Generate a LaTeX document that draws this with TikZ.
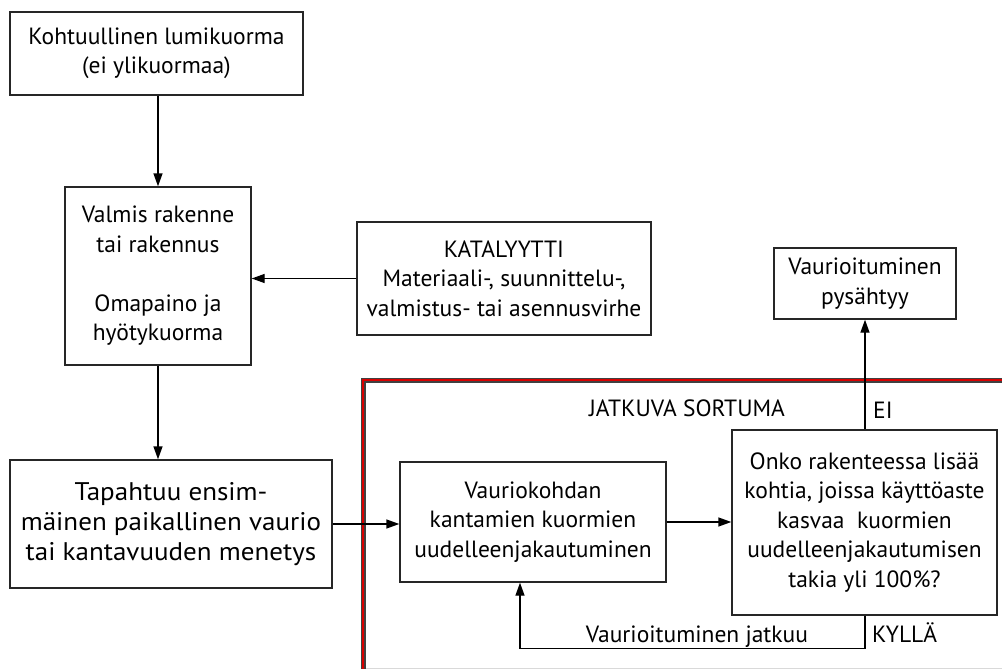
\documentclass[tikz,border=0pt]{standalone}
\usepackage{fontspec}
\setmainfont{PT Sans}
\newfontfamily\widesans[FakeStretch=1.06]{PT Sans}
\usetikzlibrary{arrows.meta,calc}
\begin{document}
\begin{tikzpicture}[x=1pt,y=-1pt,
  box/.style={draw=black!85,line width=1.4pt,align=center,inner sep=0pt,
    font=\fontsize{23.5}{29.5}\selectfont},
  lbl/.style={font=\fontsize{23.5}{29.5}\selectfont,inner sep=0pt},
  arr/.style={line width=1.4pt,-{Triangle[length=13pt,width=9pt]}}]
\useasboundingbox (0,0) rectangle (1002,669);
\begin{scope}
\clip (0,0) rectangle (1002,669);
\draw[black!15,line width=1pt] (363,668) -- (1010,668);
\draw[black!75,line width=5pt] (363,690) -- (363,380) -- (1020,380);
\draw[red!85!black,line width=2.6pt] (363,690) -- (363,380) -- (1020,380);
\end{scope}
\node[box,minimum width=293pt,minimum height=83pt] (b1) at (156.5,53.5)
  {Kohtuullinen lumikuorma\\(ei ylikuormaa)};
\node[box,minimum width=186pt,minimum height=178pt] (b2) at (158,276)
  {Valmis rakenne\\tai rakennus\\[29.5pt]Omapaino ja\\hyötykuorma};
\node[box,minimum width=294pt,minimum height=113pt] (bk) at (504,278.5)
  {KATALYYTTI\\Materiaali-, suunnittelu-,\\valmistus- tai asennusvirhe};
\node[box,minimum width=322pt,minimum height=128pt,
  font=\widesans\fontsize{25.5}{30}\selectfont] (b3) at (171,524)
  {Tapahtuu ensim-\\mäinen paikallinen vaurio\\tai kantavuuden menetys};
\node[box,minimum width=266pt,minimum height=120pt] (b4) at (533,522)
  {Vauriokohdan\\kantamien kuormien\\uudelleenjakautuminen};
\node[box,minimum width=265pt,minimum height=185pt] (b5) at (864.5,522.5)
  {Onko rakenteessa lisää\\kohtia, joissa käyttöaste\\kasvaa\ \ kuormien\\uudelleenjakautumisen\\takia yli 100\%?};
\node[box,minimum width=182pt,minimum height=71pt] (b6) at (865,283.5)
  {Vaurioituminen\\pysähtyy};
\node[lbl] (js) at (687,408) {JATKUVA SORTUMA};
\node[lbl,anchor=west] (ei) at (873,410) {EI};
\node[lbl,anchor=base west] (ky) at (872,642) {KYLLÄ};
\node[lbl,anchor=base] (vj) at (697,642) {Vaurioituminen jatkuu};
\draw[arr] (b1.south -| b2) -- (b2.north);
\draw[arr] (bk.west) -- (bk.west -| b2.east);
\draw[arr] (b2.south) -- (b2.south |- b3.north);
\draw[arr] (b3.east) -- (b3.east -| b4.west);
\draw[arr] (b4.east) -- (b4.east -| b5.west);
\draw[arr] (b5.north -| b6) -- (b6.south);
\draw[arr] (b5.south -| b6) -- ++(0,33) coordinate (lc) -| ([xshift=-13pt]b4.south);
\end{tikzpicture}
\end{document}
